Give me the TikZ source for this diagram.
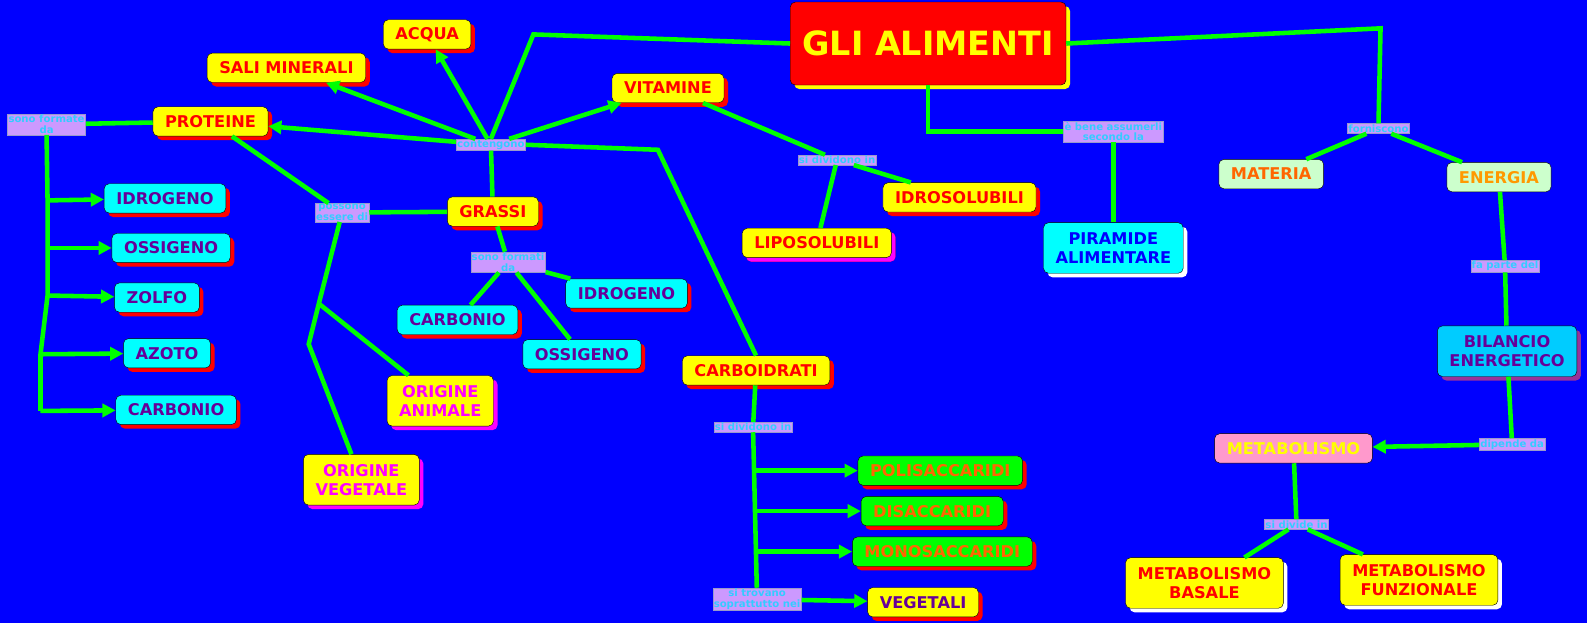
\documentclass[tikz,border=0pt]{standalone}
\usepackage{fontspec}
\setmainfont{DejaVu Sans}
\usetikzlibrary{arrows.meta, shadows}

\definecolor{bg}{HTML}{0000FF}
\definecolor{lnk}{HTML}{00FF00}
\definecolor{tagfill}{HTML}{CC99FF}
\definecolor{tagtext}{HTML}{33CCFF}
\definecolor{purp}{HTML}{660099}
\definecolor{orng}{HTML}{FF6600}
\definecolor{gold}{HTML}{FF9900}
\definecolor{palegreen}{HTML}{CCFFCC}
\definecolor{pinkbox}{HTML}{FF99CC}
\definecolor{skyb}{HTML}{00CCFF}
\definecolor{plum}{HTML}{993399}
\definecolor{tagline}{HTML}{9999CC}
\definecolor{cyanfill}{HTML}{00FFFF}
\definecolor{yelfill}{HTML}{FFFF00}
\definecolor{redfill}{HTML}{FF0000}
\definecolor{magtext}{HTML}{FF00FF}
\definecolor{bluetext}{HTML}{0000FF}

\tikzset{
  box/.style={draw=black, rounded corners=5pt, align=center, inner xsep=12pt,
    minimum height=29pt, font=\fontsize{16}{19}\selectfont\bfseries},
  twoline/.style={minimum height=50pt},
  shade/.style={drop shadow={shadow xshift=4pt, shadow yshift=-4pt, fill=#1, opacity=1}},
  yelbox/.style={box, fill=yelfill, text=redfill, shade=redfill},
  cyanbox/.style={box, fill=cyanfill, text=purp, shade=redfill},
  greenbox/.style={box, fill=lnk, text=orng, shade=redfill},
  originbox/.style={box, twoline, fill=yelfill, text=magtext, shade=magtext},
  tag/.style={draw=tagline, fill=tagfill, text=tagtext, inner sep=1pt, align=center,
    font=\fontsize{10}{10.5}\selectfont\bfseries},
  conn/.style={draw=lnk, line width=4.5pt},
  arr/.style={conn, -{Triangle[length=13pt, width=13pt]}}
}

\begin{document}
\begin{tikzpicture}[x=1pt, y=-1pt]
  \fill[bg] (0,0) rectangle (1568,616);
  \useasboundingbox (0,0) rectangle (1568,616);

  % main topic
  \node[box, fill=redfill, text=yelfill, shade=yelfill, minimum width=268pt, minimum height=82pt,
    font=\fontsize{33}{36}\selectfont\bfseries] (alimenti) at (917,43) {GLI ALIMENTI};

  % linking words
  \node[tag] (contengono) at (485,143) {contengono};
  \node[tag] (formate) at (46,123) {sono formate\\da};
  \node[tag] (possono) at (338,210) {possono\\essere di};
  \node[tag] (formati) at (502,259) {sono formati\\da};
  \node[tag] (dividono1) at (827,158) {si dividono in};
  \node[tag] (bene) at (1100,130) {è bene assumerli\\secondo la};
  \node[tag] (forniscono) at (1362,127) {forniscono};
  \node[tag] (dividono2) at (744,422) {si dividono in};
  \node[tag] (trovano) at (748,592) {si trovano\\soprattutto nei};
  \node[tag] (parte) at (1487,263) {fa parte del};
  \node[tag] (dipende) at (1494,439) {dipende da};
  \node[tag] (divide) at (1281,518) {si divide in};

  % nutrients
  \node[yelbox] (acqua) at (422,34) {ACQUA};
  \node[yelbox] (sali) at (283,67) {SALI MINERALI};
  \node[yelbox] (vitamine) at (660,87) {VITAMINE};
  \node[yelbox] (proteine) at (208,120) {PROTEINE};
  \node[yelbox] (grassi) at (487,209) {GRASSI};
  \node[yelbox] (carboidrati) at (747,366) {CARBOIDRATI};
  \node[yelbox] (idrosol) at (948,195) {IDROSOLUBILI};
  \node[yelbox, shade=magtext] (liposol) at (807,240) {LIPOSOLUBILI};

  % elements
  \node[cyanbox] (idrog1) at (163,196) {IDROGENO};
  \node[cyanbox] (ossig1) at (169,245) {OSSIGENO};
  \node[cyanbox] (zolfo) at (155,294) {ZOLFO};
  \node[cyanbox] (azoto) at (165,349) {AZOTO};
  \node[cyanbox] (carb1) at (174,405) {CARBONIO};
  \node[cyanbox] (carb2) at (452,316) {CARBONIO};
  \node[cyanbox] (idrog2) at (619,290) {IDROGENO};
  \node[cyanbox] (ossig2) at (575,350) {OSSIGENO};

  \node[originbox] (origanim) at (435,396) {ORIGINE\\ANIMALE};
  \node[originbox] (origveg) at (357,474) {ORIGINE\\VEGETALE};

  % sugars
  \node[greenbox] (polisac) at (929,465) {POLISACCARIDI};
  \node[greenbox] (disac) at (921,505) {DISACCARIDI};
  \node[greenbox] (monosac) at (931,545) {MONOSACCARIDI};
  \node[box, fill=yelfill, text=purp, shade=redfill] (vegetali) at (912,595) {VEGETALI};

  % right side
  \node[box, twoline, fill=cyanfill, text=bluetext, shade=white] (piramide) at (1100,245) {PIRAMIDE\\ALIMENTARE};
  \node[box, fill=palegreen, text=orng] (materia) at (1256,172) {MATERIA};
  \node[box, fill=palegreen, text=gold] (energia) at (1481,175) {ENERGIA};
  \node[box, twoline, fill=skyb, text=purp, shade=plum] (bilancio) at (1489,347) {BILANCIO\\ENERGETICO};
  \node[box, fill=pinkbox, text=yelfill] (metabolismo) at (1278,443) {METABOLISMO};
  \node[box, twoline, fill=yelfill, text=redfill, shade=white] (basale) at (1190,576) {METABOLISMO\\BASALE};
  \node[box, twoline, fill=yelfill, text=redfill, shade=white] (funzionale) at (1402,573) {METABOLISMO\\FUNZIONALE};

  % bends and trunks
  \coordinate (t1) at (527,34);
  \coordinate (t2) at (1364,28);
  \coordinate (k1) at (650,148);
  \coordinate (pr1) at (47,198);
  \coordinate (pr2) at (47,245);
  \coordinate (pr3) at (47,292);
  \coordinate (pr4) at (40,350);
  \coordinate (pr5) at (40,406);
  \coordinate (or1) at (315,300);
  \coordinate (or2) at (305,340);
  \coordinate (c1) at (747,465);
  \coordinate (c2) at (747,505);
  \coordinate (c3) at (748,545);

  % links from the title
  \draw[conn] (alimenti.west) -- (t1) -- (contengono.north);
  \draw[conn] (alimenti.south) -- (alimenti.south |- bene) -- (bene.west);
  \draw[conn] (alimenti.east) -- (t2) -- (forniscono.north);

  \draw[arr] (contengono) -- (acqua);
  \draw[arr] (contengono) -- (sali);
  \draw[arr] (contengono) -- (proteine);
  \draw[arr] (contengono) -- (vitamine);
  \draw[conn] (contengono) -- (grassi);
  \draw[conn] (contengono.east) -- (k1) -- (carboidrati.north);

  % proteine
  \draw[conn] (proteine) -- (formate);
  \draw[conn] (formate.south) -- (pr1) -- (pr2) -- (pr3) -- (pr4) -- (pr5);
  \draw[arr] (pr1) -- (idrog1);
  \draw[arr] (pr2) -- (ossig1);
  \draw[arr] (pr3) -- (zolfo);
  \draw[arr] (pr4) -- (azoto);
  \draw[arr] (pr5) -- (carb1);
  \draw[conn] (proteine) -- (possono);
  \draw[conn] (grassi) -- (possono);
  \draw[conn] (possono) -- (or1) -- (or2) -- (origveg);
  \draw[conn] (or1) -- (origanim);

  % grassi
  \draw[conn] (grassi) -- (formati);
  \draw[conn] (formati) -- (carb2);
  \draw[conn] (formati) -- (idrog2);
  \draw[conn] (formati) -- (ossig2);

  % vitamine
  \draw[conn] (vitamine) -- (dividono1);
  \draw[conn] (dividono1) -- (liposol);
  \draw[conn] (dividono1) -- (idrosol);

  % carboidrati
  \draw[conn] (carboidrati) -- (dividono2);
  \draw[conn] (dividono2) -- (trovano);
  \draw[arr] (c1) -- (polisac);
  \draw[arr] (c2) -- (disac);
  \draw[arr] (c3) -- (monosac);
  \draw[arr] (trovano) -- (vegetali);

  % right side
  \draw[conn] (bene) -- (piramide);
  \draw[conn] (forniscono) -- (materia);
  \draw[conn] (forniscono) -- (energia);
  \draw[conn] (energia) -- (parte);
  \draw[conn] (parte) -- (bilancio);
  \draw[conn] (bilancio) -- (dipende);
  \draw[arr] (dipende) -- (metabolismo);
  \draw[conn] (metabolismo) -- (divide);
  \draw[conn] (divide) -- (basale);
  \draw[conn] (divide) -- (funzionale);
\end{tikzpicture}
\end{document}
